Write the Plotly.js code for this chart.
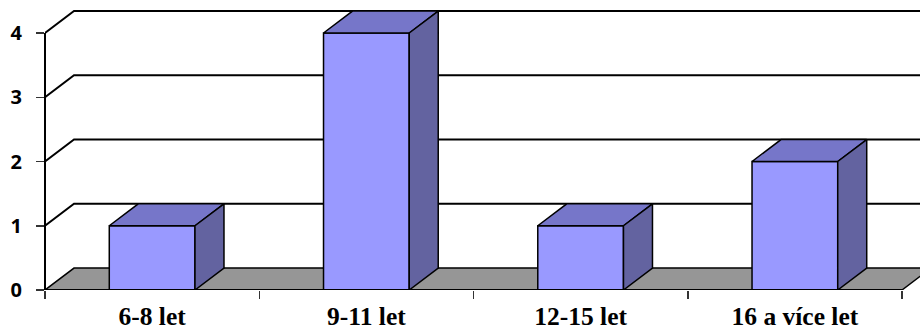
<!DOCTYPE html>
<html>
<head>
<meta charset="utf-8">
<script src="https://cdn.plot.ly/plotly-3.0.1.min.js"></script>
<style>html,body{margin:0;padding:0;background:#fff;}#chart{width:920px;height:332px;}</style>
</head>
<body>
<div id="chart"></div>
<script>
const categories = ["6-8 let", "9-11 let", "12-15 let", "16 a více let"];
const values = [1, 4, 1, 2];
const yTicks = [0, 1, 2, 3, 4];

// 3D look parameters (in axis units)
const barW = 0.4;
const depthX = 0.1354;
const depthY = 0.342;
const xPos = categories.map((c, i) => i);
const xLo = -0.5, xHi = categories.length - 0.5;
const xRangeMax = -0.5 + 875 / 214.25;
const yRangeMax = 290 / 64.25;

const frontColor = "#9999FF";
const topColor = "#7676C9";
const sideColor = "#6363A0";
const floorColor = "#969696";

const traces = [];
traces.push({
  type: "bar", x: xPos, y: values, width: barW,
  marker: {color: frontColor, line: {color: "#000", width: 1.5}},
  hoverinfo: "skip", showlegend: false, xaxis: "x", yaxis: "y"
});
xPos.forEach((xc, i) => {
  const v = values[i];
  const l = xc - barW / 2, r = xc + barW / 2;
  traces.push({
    type: "scatter", mode: "lines", fill: "toself", fillcolor: topColor,
    x: [l, r, r + depthX, l + depthX, l],
    y: [v, v, v + depthY, v + depthY, v],
    line: {color: "#000", width: 1.5}, hoverinfo: "skip", showlegend: false
  });
  traces.push({
    type: "scatter", mode: "lines", fill: "toself", fillcolor: sideColor,
    x: [r, r, r + depthX, r + depthX, r],
    y: [0, v, v + depthY, depthY, 0],
    line: {color: "#000", width: 1.5}, hoverinfo: "skip", showlegend: false
  });
});
// invisible trace to activate xaxis2
traces.push({type: "scatter", x: [xLo], y: [0], xaxis: "x2", yaxis: "y", mode: "markers",
  marker: {opacity: 0}, hoverinfo: "skip", showlegend: false});

const shapes = [];
// back wall gridlines
yTicks.forEach(v => {
  if (v === 0) return;
  shapes.push({type: "path", layer: "below", xref: "x", yref: "y",
    path: `M ${xLo} ${v} L ${xLo + depthX} ${v + depthY} L ${xHi + depthX} ${v + depthY}`,
    line: {color: "#000", width: 2}});
});
// floor
shapes.push({type: "path", layer: "below", xref: "x", yref: "y",
  path: `M ${xLo} 0 L ${xHi} 0 L ${xHi + depthX} ${depthY} L ${xLo + depthX} ${depthY} Z`,
  fillcolor: floorColor, line: {color: "#000", width: 1.5}});
// x axis front edge
shapes.push({type: "line", layer: "above", xref: "x", yref: "y",
  x0: xLo, x1: xHi, y0: 0, y1: 0, line: {color: "#000", width: 2}});
// y axis line
shapes.push({type: "line", layer: "above", xref: "paper", yref: "y",
  x0: 0, x1: 0, y0: 0, y1: yTicks[yTicks.length - 1], line: {color: "#000", width: 2}});

const layout = {
  width: 920, height: 332,
  margin: {l: 45, r: 0, t: 0, b: 42, pad: 0},
  paper_bgcolor: "#fff", plot_bgcolor: "#fff",
  showlegend: false, hovermode: false,
  xaxis: {
    range: [xLo, xRangeMax], tickvals: xPos, ticktext: categories,
    ticks: "", showgrid: false, zeroline: false, showline: false,
    tickfont: {family: "Liberation Serif", size: 25.5, color: "#000", weight: "bold"},
    ticklabelstandoff: 8
  },
  xaxis2: {
    overlaying: "x", anchor: "y", side: "bottom", matches: "x",
    range: [xLo, xRangeMax],
    tickvals: [-0.5, 0.5, 1.5, 2.5, 3.5], showticklabels: false,
    ticks: "outside", ticklen: 8, tickwidth: 1.5, tickcolor: "#333",
    showgrid: false, zeroline: false, showline: false
  },
  yaxis: {
    range: [0, yRangeMax], tickvals: yTicks, ticktext: yTicks.map(String),
    ticks: "outside", ticklen: 8, tickwidth: 1.5, tickcolor: "#333",
    showgrid: false, zeroline: false, showline: false,
    tickfont: {family: "Open Sans", size: 20, color: "#000", weight: "bold"},
    ticklabelstandoff: 10
  },
  shapes: shapes
};
Plotly.newPlot("chart", traces, layout, {staticPlot: true, displayModeBar: false});
</script>
</body>
</html>
